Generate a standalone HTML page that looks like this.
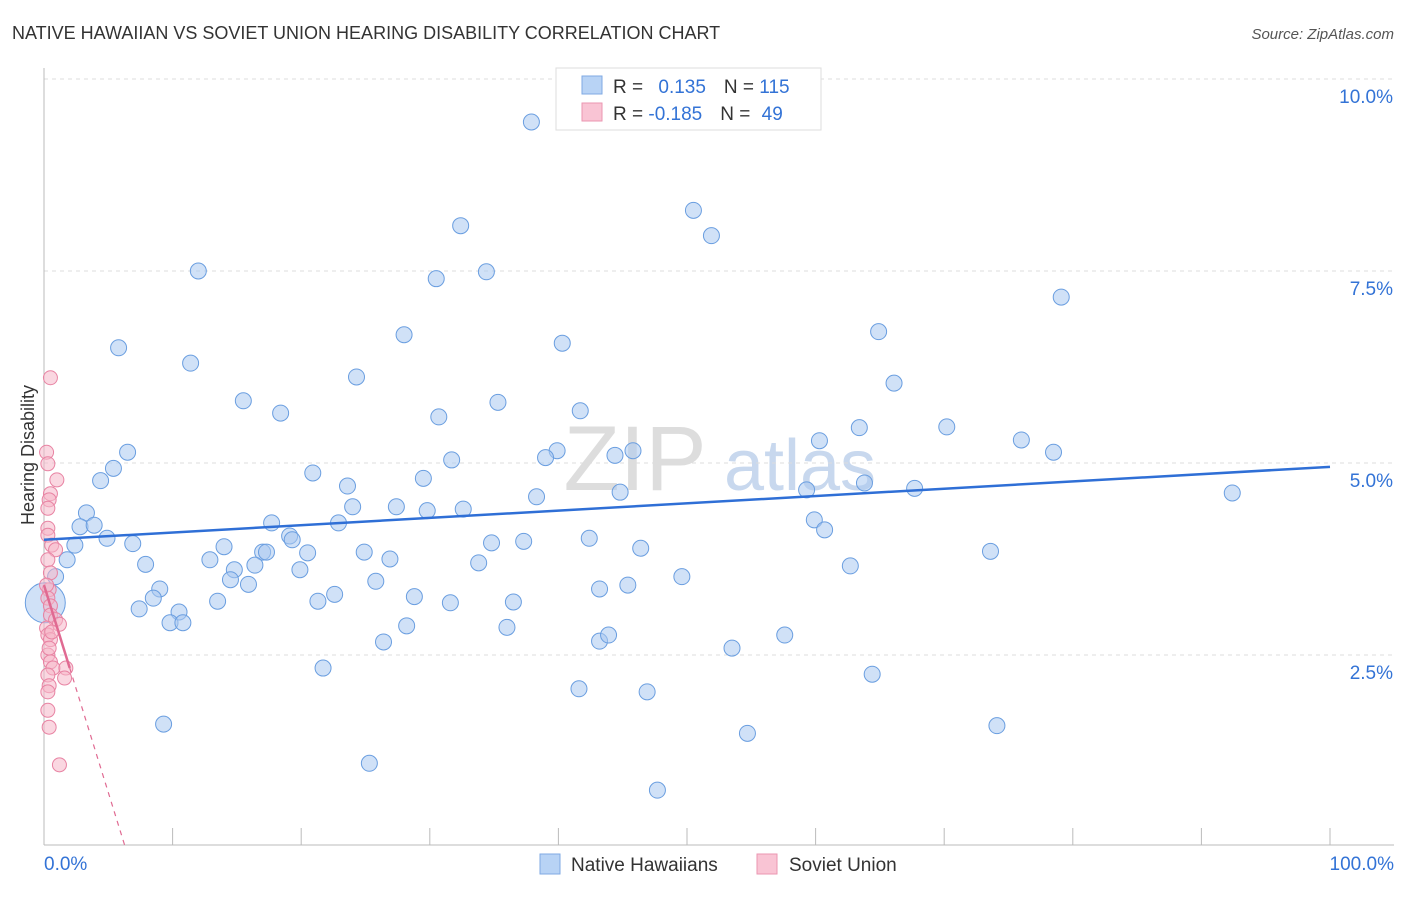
<!DOCTYPE html>
<html><head><meta charset="utf-8"><style>
body{margin:0;background:#fff;font-family:"Liberation Sans",sans-serif}
svg text{font-family:"Liberation Sans",sans-serif}
</style></head><body>
<svg id="c" width="1406" height="892" xmlns="http://www.w3.org/2000/svg">
<text x="12" y="39" font-size="18" fill="#333">NATIVE HAWAIIAN VS SOVIET UNION HEARING DISABILITY CORRELATION CHART</text>
<text x="1394" y="39" font-size="15" fill="#555" text-anchor="end" font-style="italic">Source: ZipAtlas.com</text>
<text x="635" y="490" font-size="92" fill="#ddd" font-family="Liberation Serif" text-anchor="middle">ZIP</text>
<text x="800" y="490" font-size="72" fill="#c8d8ee" text-anchor="middle">atlas</text>
<g id="grid"></g><g id="axes"></g><g id="marks"></g>
<text x="34" y="455" font-size="18" fill="#333" text-anchor="middle" transform="rotate(-90 34 455)">Hearing Disability</text>
<g>
<rect x="556" y="68" width="265" height="62" fill="#fff" stroke="#ddd"/>
<rect x="582" y="76" width="20" height="18" fill="#b8d3f5" stroke="#7fa9e3"/>
<rect x="582" y="103" width="20" height="18" fill="#f9c4d4" stroke="#eb96b1"/>
<text x="613" y="93" font-size="19" fill="#333">R = <tspan fill="#3373d6" dx="10">0.135</tspan><tspan dx="18" fill="#333">N = </tspan><tspan fill="#3373d6">115</tspan></text>
<text x="613" y="120" font-size="19" fill="#333">R = <tspan fill="#3373d6">-0.185</tspan><tspan dx="18" fill="#333">N = </tspan><tspan fill="#3373d6" dx="6">49</tspan></text>
</g>
<g>
<rect x="540" y="854" width="20" height="20" fill="#b8d3f5" stroke="#7fa9e3"/>
<text x="571" y="871" font-size="19" fill="#333">Native Hawaiians</text>
<rect x="757" y="854" width="20" height="20" fill="#f9c4d4" stroke="#eb96b1"/>
<text x="789" y="871" font-size="19" fill="#333">Soviet Union</text>
</g>
</svg>
<script>
const blueX=[37.9,32.4,50.5,51.9,12.0,30.5,34.4,79.1,5.8,28.0,40.3,64.9,11.4,24.3,66.1,15.5,18.4,35.3,30.7,41.7,6.5,5.4,4.4,20.9,31.7,39.9,39.0,44.4,45.8,63.4,70.2,76.0,78.5,60.3,92.4,3.3,2.8,3.9,4.9,2.4,1.8,0.9,23.6,27.4,29.5,24.0,29.8,32.6,38.3,44.8,59.3,63.8,67.7,17.7,19.1,19.3,22.9,59.9,60.7,6.9,14.0,12.9,17.0,17.3,20.5,24.9,26.9,34.8,37.3,42.4,46.4,73.6,7.9,14.8,16.4,19.9,14.5,15.9,9.0,8.5,25.8,33.8,49.6,62.7,43.2,45.4,7.4,13.5,10.5,21.3,22.6,28.8,31.6,36.5,9.8,10.8,28.2,36.0,26.4,43.2,43.9,53.5,57.6,21.7,41.6,46.9,64.4,9.3,74.1,54.7,25.3,47.7];
const blueY=[9.44,8.09,8.29,7.96,7.50,7.40,7.49,7.16,6.50,6.67,6.56,6.71,6.30,6.12,6.04,5.81,5.65,5.79,5.60,5.68,5.14,4.93,4.77,4.87,5.04,5.16,5.07,5.10,5.16,5.46,5.47,5.30,5.14,5.29,4.61,4.35,4.17,4.19,4.02,3.93,3.74,3.52,4.70,4.43,4.80,4.43,4.38,4.40,4.56,4.62,4.65,4.74,4.67,4.22,4.05,4.00,4.22,4.26,4.13,3.95,3.91,3.74,3.84,3.84,3.83,3.84,3.75,3.96,3.98,4.02,3.89,3.85,3.68,3.61,3.67,3.61,3.48,3.42,3.36,3.24,3.46,3.70,3.52,3.66,3.36,3.41,3.10,3.20,3.06,3.20,3.29,3.26,3.18,3.19,2.92,2.92,2.88,2.86,2.67,2.68,2.76,2.59,2.76,2.33,2.06,2.02,2.25,1.60,1.58,1.48,1.09,0.74];
const pinkX=[0.5,0.2,0.3,1.0,0.5,0.4,0.3,0.3,0.3,0.6,0.9,0.3,0.5,0.4,0.3,0.5,0.5,0.9,1.2,0.2,0.3,0.5,0.3,0.5,0.7,1.7,0.3,1.6,0.4,0.3,0.3,0.4,1.2,0.2,0.6,0.4];
const pinkY=[6.11,5.14,4.99,4.78,4.60,4.52,4.41,4.15,4.06,3.93,3.87,3.74,3.57,3.35,3.24,3.14,3.02,2.96,2.90,2.85,2.76,2.70,2.50,2.41,2.33,2.33,2.24,2.20,2.10,2.02,1.78,1.56,1.07,3.41,2.80,2.59];
const bigX=[0.1],bigY=[3.18];
const blueTrend=[4.0,4.95];
const pinkTrend=[3.41,-0.54];
const yTicks=[2.5,5.0,7.5,10.0];
const yTickLabels=["2.5%","5.0%","7.5%","10.0%"];
const xTicks=[0,10,20,30,40,50,60,70,80,90,100];
const NS="http://www.w3.org/2000/svg";
const X=v=>44+v*12.86, Y=v=>847-v*76.8;
function mk(t,a,p){const e=document.createElementNS(NS,t);for(const k in a)e.setAttribute(k,a[k]);p.appendChild(e);return e;}
const grid=document.getElementById('grid'),axes=document.getElementById('axes'),marks=document.getElementById('marks');
yTicks.forEach((v,i)=>{
 const l=mk('line',{x1:44,x2:1394,y1:Y(v),y2:Y(v),stroke:'#ddd','stroke-dasharray':'4,4'},grid);
 
 
 const t=mk('text',{x:1393,y:Y(v)+24,'font-size':19,fill:'#3373d6','text-anchor':'end'},axes);
 t.textContent=yTickLabels[i];
 
 
});
const ax=mk('line',{x1:44,x2:1394,y1:845,y2:845,stroke:'#bbb'},axes);


const ay=mk('line',{x1:44,x2:44,y1:68,y2:845,stroke:'#bbb'},axes);


xTicks.forEach(v=>{const t=mk('line',{x1:X(v),x2:X(v),y1:828,y2:845,stroke:'#bbb'},axes);
 
 });
[[0,"0.0%",'start',44],[100,"100.0%",'end',1394]].forEach(d=>{const t=mk('text',{x:d[3],y:870,'font-size':19,fill:'#3373d6','text-anchor':d[2]},axes);t.textContent=d[1];
 
 });
function dots(xs,ys,r,fill,stroke,name){xs.forEach((x,i)=>{const c=mk('circle',{cx:X(x),cy:Y(ys[i]),r:r,fill:fill,'fill-opacity':0.55,stroke:stroke,'stroke-width':1},marks);
 
 });}
dots(blueX,blueY,8,'#a9c8f0','#6a9ee0','native-hawaiian-point');
dots(bigX,bigY,20,'#a9c8f0','#6a9ee0','native-hawaiian-point');
dots(pinkX,pinkY,7,'#f5b6c8','#e883a3','soviet-union-point');
const bl=mk('line',{x1:X(0),y1:Y(blueTrend[0]),x2:X(100),y2:Y(blueTrend[1]),stroke:'#2f6fd6','stroke-width':2.5},marks);


const pe=-pinkTrend[0]/pinkTrend[1];
const pd=mk('line',{x1:X(2),y1:Y(pinkTrend[0]+pinkTrend[1]*2),x2:X(pe),y2:Y(0),stroke:'#e06a92','stroke-width':1.2,'stroke-dasharray':'5,5'},marks);


const pl=mk('line',{x1:X(0),y1:Y(pinkTrend[0]),x2:X(2),y2:Y(pinkTrend[0]+pinkTrend[1]*2),stroke:'#e06a92','stroke-width':2.5},marks);


</script>
</body></html>
